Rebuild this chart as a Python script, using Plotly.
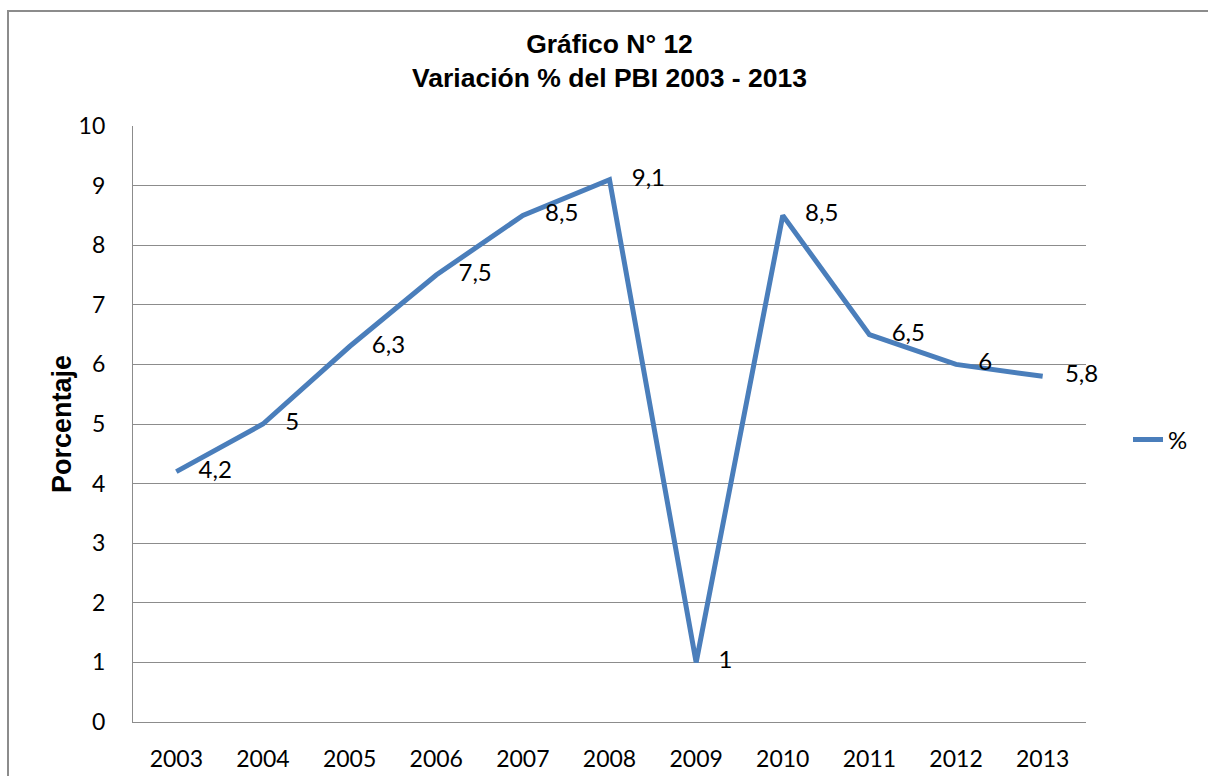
import plotly.graph_objects as go

years = ["2003", "2004", "2005", "2006", "2007", "2008", "2009", "2010", "2011", "2012", "2013"]
pbi_var = [4.2, 5, 6.3, 7.5, 8.5, 9.1, 1, 8.5, 6.5, 6, 5.8]
y_ticks = [0, 1, 2, 3, 4, 5, 6, 7, 8, 9, 10]

labels = [f"{v:g}".replace(".", ",") for v in pbi_var]

W, H = 1208, 776
L, R, T, B = 133, 1086, 126, 722
pw, ph = R - L, B - T

def px_x(p):
    return (p - L) / pw

def px_y(p):
    return (B - p) / ph

fig = go.Figure()
fig.add_trace(go.Scatter(
    x=years, y=pbi_var, name="%",
    mode="lines+markers+text",
    line=dict(color="#4A7EBB", width=5),
    marker=dict(size=34, color="rgba(0,0,0,0)"),
    text=labels, textposition="middle right",
    textfont=dict(family="Lato", size=24, color="#000000"),
    cliponaxis=False,
    hoverinfo="x+y",
))

grid = "#8C8C8C"
fig.update_layout(
    width=W, height=H,
    margin=dict(l=L, r=W - R, t=T, b=H - B, autoexpand=False),
    paper_bgcolor="white", plot_bgcolor="white",
    title=dict(
        text="<b>Gráfico N° 12</b><br><b>Variación % del PBI 2003 - 2013</b>",
        font=dict(family="Liberation Sans, Arial", size=26.5, color="#000000"),
        x=0.5, xref="paper", xanchor="center",
        y=1 - 53 / H, yref="container", yanchor="top",
    ),
    showlegend=True,
    legend=dict(
        x=px_x(1128), xanchor="left", y=px_y(440), yanchor="middle",
        font=dict(family="Lato", size=24, color="#000000"),
        bgcolor="rgba(0,0,0,0)", borderwidth=0,
    ),
    xaxis=dict(
        type="category", range=[-0.5, len(years) - 0.5],
        showgrid=False, showline=True, linecolor=grid, linewidth=1.3,
        ticks="", tickfont=dict(family="Lato", size=23, color="#000000"),
        ticklabelstandoff=16, zeroline=False, automargin=False,
    ),
    yaxis=dict(
        range=[0, 10], tickvals=y_ticks,
        showgrid=True, gridcolor=grid, gridwidth=1.3,
        showline=True, linecolor=grid, linewidth=1.3,
        ticks="", tickfont=dict(family="Lato", size=23, color="#000000"),
        ticklabelstandoff=22, zeroline=False, automargin=False,
    ),
    separators=",.",
)

# Y-axis title
fig.add_annotation(
    text="<b>Porcentaje</b>", textangle=-90,
    xref="paper", yref="paper", x=px_x(62), y=0.5,
    xanchor="center", yanchor="middle", showarrow=False,
    font=dict(family="Liberation Sans, Arial", size=27, color="#000000"),
)

# chart-area border (Excel chart frame)
fig.add_shape(type="rect", xref="paper", yref="paper",
              x0=px_x(8), x1=px_x(1240), y0=px_y(800), y1=px_y(11),
              line=dict(color="#8C8C8C", width=2), layer="below")

fig.write_html("out.html", config={"displayModeBar": False},
               post_script="document.body.style.margin='0';document.body.style.overflow='hidden';")
